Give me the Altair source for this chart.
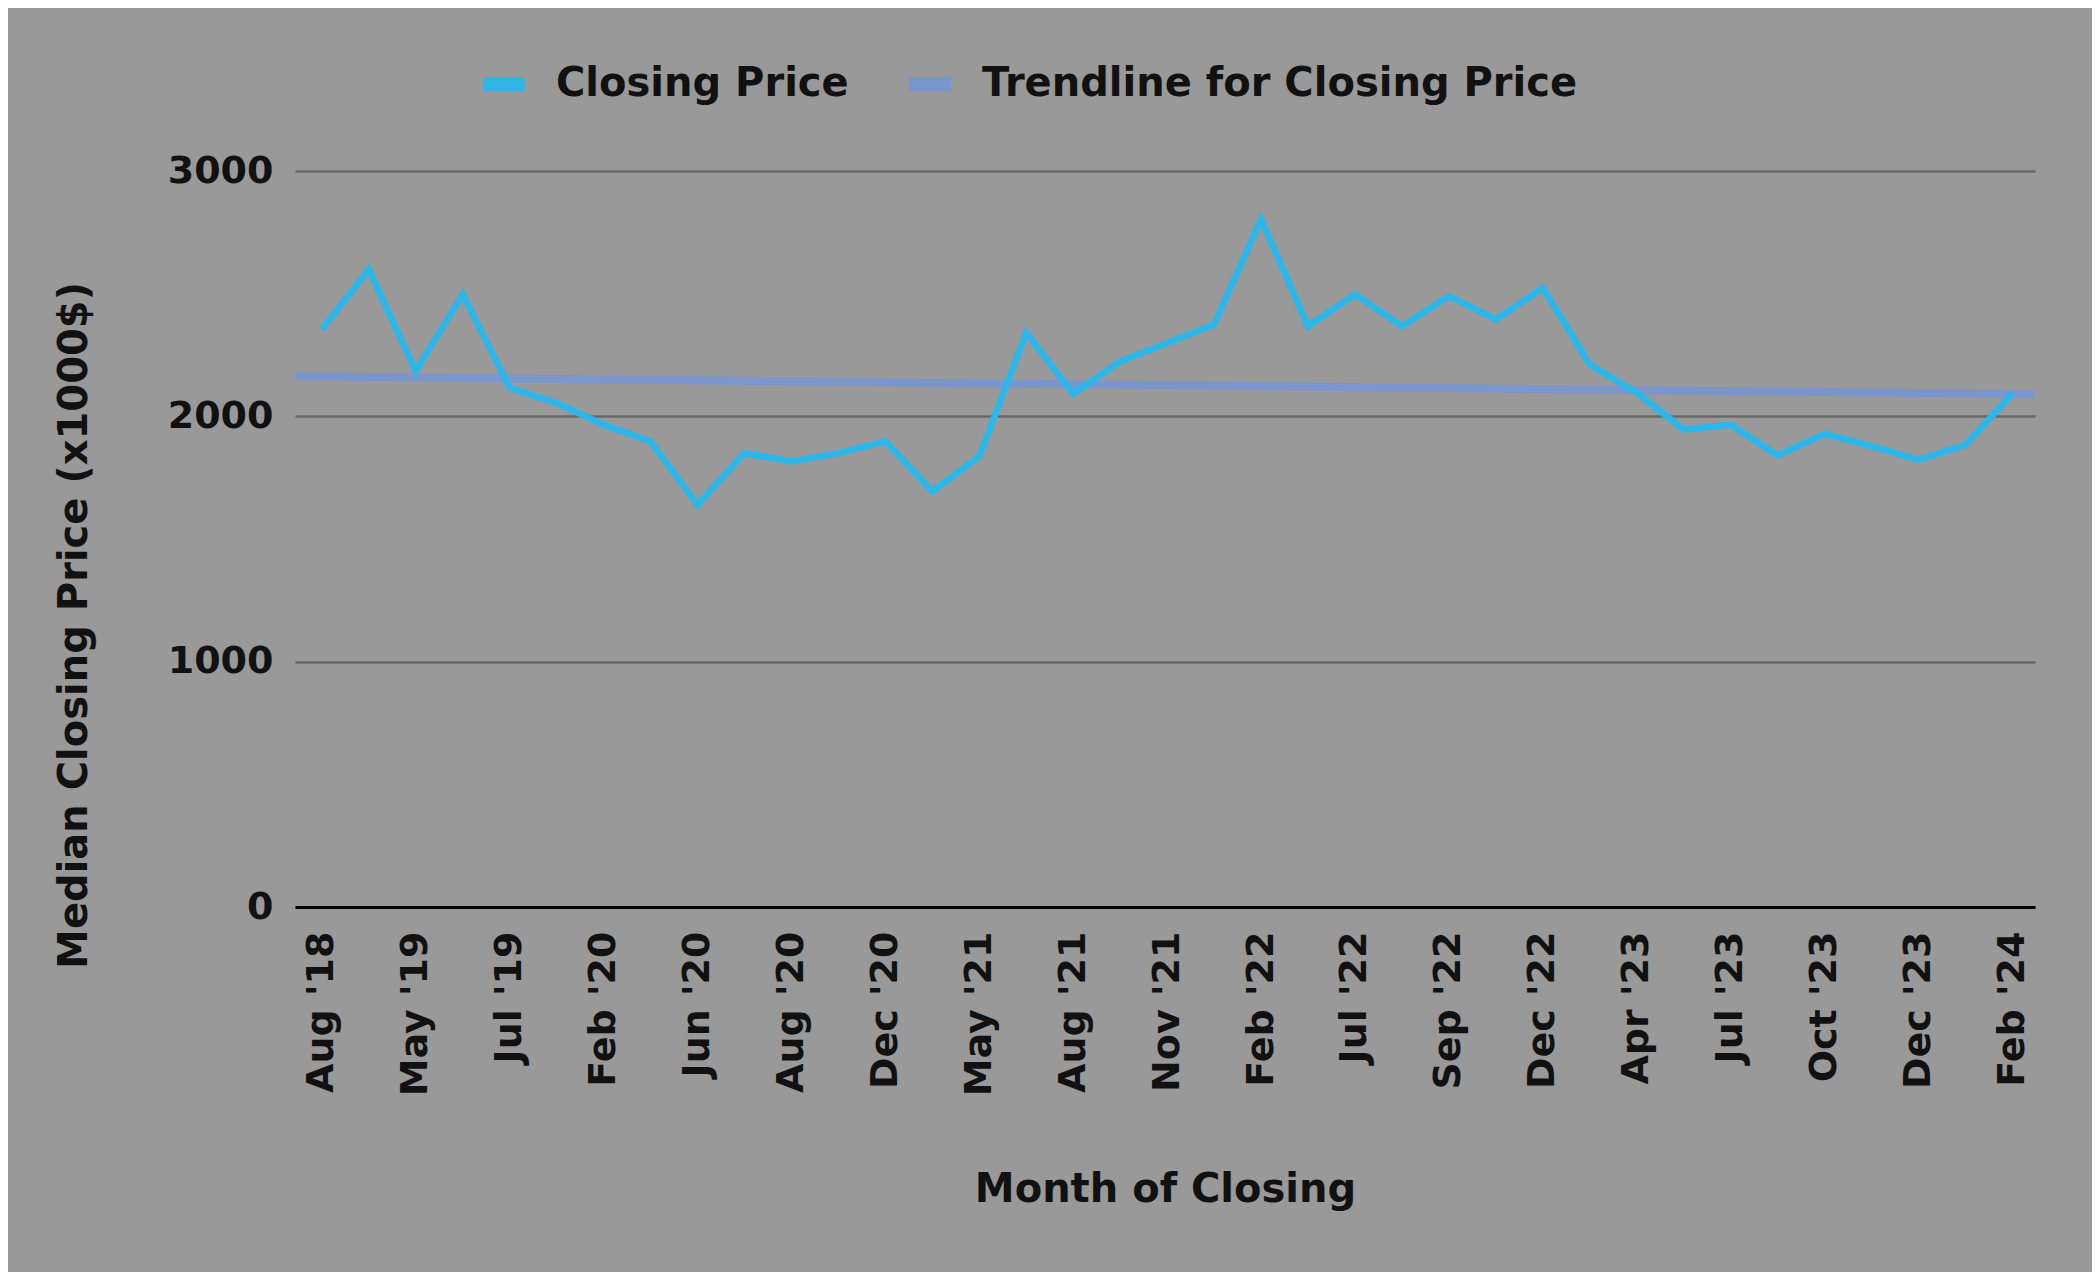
import json
import altair as alt
import pandas as pd

# Median closing price (x1000$) per month, in chart order
prices = [2354, 2599, 2184, 2497, 2116, 2054, 1966, 1898, 1639, 1850,
          1816, 1850, 1898, 1694, 1837, 2340, 2092, 2224, 2299, 2374,
          2803, 2367, 2497, 2367, 2490, 2395, 2524, 2211, 2095, 1946,
          1966, 1840, 1929, 1878, 1823, 1884, 2093]

# Tick labels shown on the axis (every second month of the series)
tick_labels = ["Aug '18", "May '19", "Jul '19", "Feb '20", "Jun '20", "Aug '20",
               "Dec '20", "May '21", "Aug '21", "Nov '21", "Feb '22", "Jul '22",
               "Sep '22", "Dec '22", "Apr '23", "Jul '23", "Oct '23", "Dec '23",
               "Feb '24"]

series_names = ["Closing Price", "Trendline for Closing Price"]
series_colors = ["#2bb7ea", "#7896d0"]

df = pd.DataFrame({"idx": list(range(len(prices))), "price": prices})

FONT = "DejaVu Sans"
X_DOMAIN = [-0.57, 36.48]

label_expr = json.dumps(tick_labels) + "[round(datum.value / 2)]"

x_enc = alt.X(
    "idx:Q",
    scale=alt.Scale(domain=X_DOMAIN, nice=False, zero=False),
    axis=alt.Axis(
        title="Month of Closing",
        values=list(range(0, len(prices), 2)),
        labelExpr=label_expr,
        labelAngle=-90,
        labelPadding=24,
        ticks=False,
        grid=False,
        domainColor="#000000",
        domainWidth=3,
        titleY=282,
        titleBaseline="middle",
        titleFontSize=40,
    ),
)

y_enc = alt.Y(
    "price:Q",
    scale=alt.Scale(domain=[0, 3000], nice=False),
    axis=alt.Axis(
        title="Median Closing Price (x1000$)",
        values=[0, 1000, 2000, 3000],
        format="d",
        ticks=False,
        domain=False,
        grid=True,
        gridColor="#686868",
        gridWidth=2.5,
        labelPadding=22,
        titleX=-221,
        titleY=454,
        titleBaseline="middle",
        titleFontSize=40,
    ),
)

color_enc = alt.Color(
    "series:N",
    scale=alt.Scale(domain=series_names, range=series_colors),
    sort=series_names,
    legend=alt.Legend(
        title=None,
        orient="none",
        direction="horizontal",
        legendX=181,
        legendY=-115,
        symbolType="stroke",
        symbolSize=1764,
        symbolStrokeWidth=14,
        labelOffset=24,
        columnPadding=32,
        labelFontSize=40,
        labelLimit=0,
        labelFont=FONT,
        labelFontWeight="bold",
        labelColor="#111111",
        padding=0,
    ),
)

line = alt.Chart(df).transform_calculate(
    series="'Closing Price'"
).mark_line(strokeWidth=6.5, strokeJoin="miter").encode(
    x=x_enc, y=y_enc, color=color_enc
)

trend = alt.Chart(df).transform_regression(
    "idx", "price", extent=X_DOMAIN
).transform_calculate(
    series="'Trendline for Closing Price'"
).mark_line(strokeWidth=8, opacity=0.95).encode(
    x="idx:Q", y="price:Q", color=alt.Color("series:N")
)

chart = alt.layer(trend, line).properties(
    width=1740,
    height=736,
    autosize=alt.AutoSizeParams(type="none"),
    padding={"left": 287, "top": 163, "right": 57, "bottom": 365},
    background="#999999",
).configure_view(
    stroke=None,
).configure_axis(
    labelFont=FONT,
    labelFontWeight="bold",
    labelFontSize=38,
    labelColor="#111111",
    titleFont=FONT,
    titleFontWeight="bold",
    titleColor="#111111",
)

chart.save("out.html", embed_options={"renderer": "svg", "actions": False})
